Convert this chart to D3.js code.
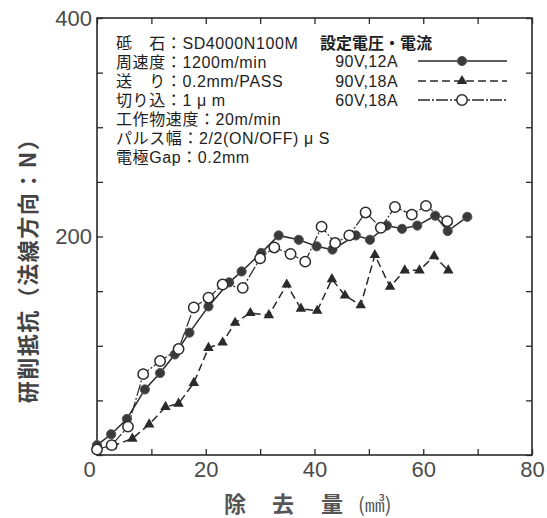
<!DOCTYPE html>
<html><head><meta charset="utf-8">
<script src="https://cdn.jsdelivr.net/npm/d3@7"></script>
<style>body{margin:0;background:#fff}</style>
</head><body><svg id="c" width="547" height="518"></svg>
<script>
// ---- data ----
const seriesNames = ["90V,12A", "90V,18A", "60V,18A"];
const xA = [0, 2.6, 5.5, 8.8, 11.6, 14.3, 17.0, 20.5, 24.3, 26.6, 30.2, 33.4, 37.1, 40.4, 43.3, 47.6, 50.2, 53.3, 56.1, 58.9, 62.2, 64.5, 68.1];
const yA = [9, 19, 33, 60, 75, 92, 112, 136, 158, 168, 185, 201, 197, 191, 188, 201, 197, 210, 207, 210, 219, 205, 218];
const xB = [2.7, 6.5, 9.6, 12.6, 15.0, 17.8, 20.5, 23.1, 25.4, 28.2, 31.6, 34.9, 37.5, 40.5, 43.2, 45.6, 48.5, 51.1, 53.9, 56.6, 59.3, 62.0, 64.6];
const yB = [8, 15, 28, 44, 47, 66, 98, 103, 121, 130, 128, 156, 134, 132, 161, 146, 137, 183, 154, 169, 169, 182, 169];
const xC = [0, 2.7, 5.7, 8.5, 11.6, 15.0, 17.8, 20.5, 23.1, 26.8, 30.0, 32.6, 35.6, 38.3, 41.3, 43.8, 46.4, 49.4, 52.2, 54.8, 57.9, 60.5, 64.4];
const yC = [5, 9, 26, 74, 86, 97, 135, 144, 156, 153, 180, 190, 184, 177, 209, 194, 201, 222, 208, 227, 220, 228, 214];
const xTicks = [0, 10, 20, 30, 40, 50, 60, 70, 80];
const xTickLabels = [0, 20, 40, 60, 80];
const yTicks = [0, 50, 100, 150, 200, 250, 300, 350, 400];
const yTickLabels = [0, 200, 400];
const conditionLines = [
  "砥　石：SD4000N100M",
  "周速度：1200m/min",
  "送　り：0.2mm/PASS",
  "切り込：1 μ m",
  "工作物速度：20m/min",
  "パルス幅：2/2(ON/OFF) μ S",
  "電極Gap：0.2mm"
];
const legendTitle = "設定電圧・電流";
const xTitle = ["除", "去", "量", "(㎣)"];
const yTitle = "研削抵抗（法線方向：N）";

// ---- drawing ----
const svg = d3.select("#c");
const L = 97, R = 532, T = 18, B = 455;
const x = d3.scaleLinear().domain([0, 80]).range([L, R]);
const y = d3.scaleLinear().domain([0, 400]).range([B, T]);
const ink = "#2a2a2a";
const numFont = "'Liberation Sans', Arial, sans-serif";
const jpFont = "'Liberation Sans', 'Noto Sans CJK JP', sans-serif";

function styleAxis(g) {
  g.select(".domain").remove();
  g.selectAll(".tick line").attr("stroke", ink).attr("stroke-width", 1.3);
  g.selectAll("text").attr("fill", "#4a4a4a").attr("font-family", numFont).attr("font-size", 22);
}
const fmtX = d => xTickLabels.includes(d) ? d : "";
const fmtY = d => (yTickLabels.includes(d) && d !== 0) ? d : "";

svg.append("g").attr("transform", `translate(0,${B})`)
  .call(d3.axisBottom(x).tickValues(xTicks).tickSize(-6).tickPadding(6).tickFormat(fmtX))
  .call(styleAxis)
  .call(g => g.selectAll(".tick").filter(d => d === 0).select("text").attr("dx", -8));
svg.append("g").attr("transform", `translate(0,${T})`)
  .call(d3.axisTop(x).tickValues(xTicks).tickSize(-6).tickFormat(""))
  .call(styleAxis);
svg.append("g").attr("transform", `translate(${L},0)`)
  .call(d3.axisLeft(y).tickValues(yTicks).tickSize(-6).tickPadding(5).tickFormat(fmtY))
  .call(styleAxis);
svg.append("g").attr("transform", `translate(${R},0)`)
  .call(d3.axisRight(y).tickValues(yTicks).tickSize(-6).tickFormat(""))
  .call(styleAxis);

svg.append("rect").attr("x", L).attr("y", T).attr("width", R - L).attr("height", B - T)
  .attr("fill", "none").attr("stroke", ink).attr("stroke-width", 1.6);

const line = d3.line().x(d => x(d[0])).y(d => y(d[1]));
const dataA = xA.map((v, i) => [v, yA[i]]);
const dataB = xB.map((v, i) => [v, yB[i]]);
const dataC = xC.map((v, i) => [v, yC[i]]);

const dashes = [null, "8,4", "12,2,2,2"];
svg.append("path").datum(dataC).attr("d", line).attr("fill", "none").attr("stroke", ink).attr("stroke-width", 1.2).attr("stroke-dasharray", dashes[2]);
svg.append("path").datum(dataB).attr("d", line).attr("fill", "none").attr("stroke", ink).attr("stroke-width", 1.5).attr("stroke-dasharray", dashes[1]);
svg.append("path").datum(dataA).attr("d", line).attr("fill", "none").attr("stroke", ink).attr("stroke-width", 1.5);

const tri = d3.symbol().type(d3.symbolTriangle).size(48);
function drawMarker(g, kind, cx, cy) {
  if (kind === 0) g.append("circle").attr("cx", cx).attr("cy", cy).attr("r", 4.6).attr("fill", "#3a3a3a").attr("stroke", "#555").attr("stroke-width", 1);
  else if (kind === 1) g.append("path").attr("d", tri).attr("transform", `translate(${cx},${cy})`).attr("fill", "#2a2a2a");
  else g.append("circle").attr("cx", cx).attr("cy", cy).attr("r", 5.2).attr("fill", "#fff").attr("stroke", ink).attr("stroke-width", 1.5);
}
const mg = svg.append("g");
dataB.forEach(d => drawMarker(mg, 1, x(d[0]), y(d[1])));
dataA.forEach(d => drawMarker(mg, 0, x(d[0]), y(d[1])));
dataC.forEach(d => drawMarker(mg, 2, x(d[0]), y(d[1])));

// conditions text
const ct = svg.append("g").attr("font-family", jpFont).attr("font-size", 16).attr("fill", "#1e1e1e");
conditionLines.forEach((t, i) => ct.append("text").attr("x", 116).attr("y", 49 + i * 19).attr("letter-spacing", 0.6).text(t));
ct.append("text").attr("x", 320).attr("y", 49).attr("font-weight", "bold").text(legendTitle);

// legend
const legY = [61, 81, 100];
seriesNames.forEach((n, i) => {
  ct.append("text").attr("x", 398).attr("y", legY[i] + 6).attr("text-anchor", "end").attr("letter-spacing", 0.4).text(n);
  const lg = svg.append("g");
  lg.append("line").attr("x1", 418).attr("x2", 507).attr("y1", legY[i]).attr("y2", legY[i])
    .attr("stroke", ink).attr("stroke-width", 1.5).attr("stroke-dasharray", dashes[i]);
  drawMarker(lg, i, 462, legY[i]);
});

// axis titles
const xt = svg.append("text").attr("y", 512).attr("font-family", "'Noto Sans CJK JP', sans-serif")
  .attr("font-size", 22).attr("font-weight", "bold").attr("fill", "#555");
const xPos = [224, 272, 321, 358];
xTitle.forEach((t, i) => xt.append("tspan").attr("x", xPos[i]).attr("font-size", i === 3 ? 20 : 22).attr("font-weight", i === 3 ? "normal" : "bold").text(t));

svg.append("text").attr("transform", "translate(36,265) rotate(-90)").attr("text-anchor", "middle")
  .attr("font-family", "'Noto Sans CJK JP', sans-serif").attr("font-size", 22).attr("font-weight", "bold")
  .attr("letter-spacing", 1.5).attr("fill", "#444").text(yTitle);
</script>
</body></html>
